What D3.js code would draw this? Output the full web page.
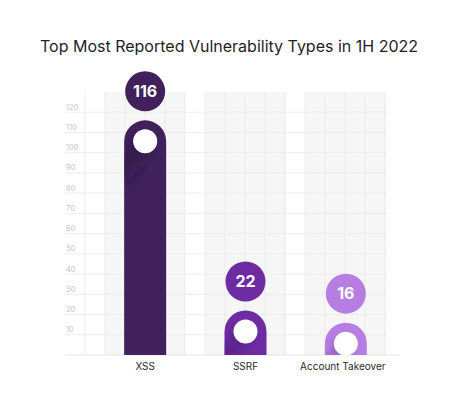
<!DOCTYPE html>
<html>
<head>
<meta charset="utf-8">
<style>
  body { margin: 0; background: #fff; }
  svg { display: block; font-family: Inter, "Noto Sans", sans-serif; }
</style>
<script src="https://cdn.jsdelivr.net/npm/d3@7"></script>
</head>
<body>
<script>
const categories = ["XSS", "SSRF", "Account Takeover"];
const values = [116, 22, 16];
const colors = ["#40215b", "#6e2ca3", "#b67ee2"];
const shadowColors = ["#2c1540", "#511c7c", "#8d55b8"];
const yTicks = [10, 20, 30, 40, 50, 60, 70, 80, 90, 100, 110, 120];

const w = 468, h = 407;
const baseY = 355, topY = 92;

const svg = d3.select("body").append("svg")
  .attr("width", w).attr("height", h);

const x = d3.scaleBand().domain(categories).range([95, 396]);
const y = d3.scaleLinear().domain([0, 130]).range([baseY, topY]);

svg.append("text")
  .attr("x", 229).attr("y", 51.5)
  .attr("text-anchor", "middle")
  .style("font-size", "16px")
  .style("fill", "#1f1f1f")
  .text("Top Most Reported Vulnerability Types in 1H 2022");

// grey panels behind each category
svg.selectAll("rect.panel")
  .data(categories)
  .enter()
  .append("rect")
  .attr("class", "panel")
  .attr("x", d => x(d) + x.bandwidth() / 2 - 40)
  .attr("y", topY)
  .attr("width", 80)
  .attr("height", baseY - topY)
  .style("fill", "#f6f6f6");

// vertical grid
svg.selectAll("line.vgrid")
  .data(d3.range(85, 390, 20))
  .enter()
  .append("line")
  .attr("x1", d => d).attr("x2", d => d)
  .attr("y1", topY).attr("y2", baseY)
  .style("stroke", "#ebebeb");

// horizontal grid + tick labels
svg.selectAll("line.hgrid")
  .data(yTicks)
  .enter()
  .append("line")
  .attr("x1", 65).attr("x2", 387)
  .attr("y1", d => y(d)).attr("y2", d => y(d))
  .style("stroke", "#ececec");

svg.selectAll("text.ytick")
  .data(yTicks)
  .enter()
  .append("text")
  .attr("x", 66)
  .attr("y", d => y(d) - 2.5)
  .style("font-size", "7.5px")
  .style("fill", "#c4c4c4")
  .text(d => d);

svg.append("line")
  .attr("x1", 65).attr("x2", 400)
  .attr("y1", baseY).attr("y2", baseY)
  .style("stroke", "#e6e6e6");

const bw = 42, r = bw / 2;
const defs = svg.append("defs");
defs.append("filter").attr("id", "blur")
  .append("feGaussianBlur").attr("stdDeviation", 2.5);

categories.forEach((c, i) => {
  const cx = x(c) + x.bandwidth() / 2;
  const t = y(values[i]);
  const x0 = cx - r, x1 = cx + r;
  const barPath = `M${x0},${baseY}V${t + r}A${r},${r} 0 0 1 ${x1},${t + r}V${baseY}Z`;

  defs.append("clipPath").attr("id", "clip" + i)
    .append("path").attr("d", barPath);

  const grad = defs.append("linearGradient").attr("id", "grad" + i)
    .attr("x1", "0").attr("y1", "0").attr("x2", "0.6").attr("y2", "1");
  grad.append("stop").attr("offset", "0").style("stop-color", shadowColors[i]).style("stop-opacity", 1);
  grad.append("stop").attr("offset", "1").style("stop-color", shadowColors[i]).style("stop-opacity", 0);

  svg.append("path")
    .attr("d", barPath)
    .style("fill", colors[i]);

  // long shadow of the white dot
  const cy = t + r, dr = 12, k = dr * 0.707, len = 40;
  const g = svg.append("g").attr("clip-path", `url(#clip${i})`);
  g.append("path")
    .attr("d", `M${cx - k},${cy - k}L${cx + k},${cy + k}L${cx + k - len * 0.5},${cy + k + len}L${cx - k - len * 0.5},${cy - k + len}Z`)
    .style("fill", `url(#grad${i})`)
    .attr("filter", "url(#blur)");

  svg.append("circle")
    .attr("cx", cx).attr("cy", cy).attr("r", dr)
    .style("fill", "#fff");

  svg.append("circle")
    .attr("cx", cx).attr("cy", t - 29).attr("r", 20)
    .style("fill", colors[i]);

  svg.append("text")
    .attr("x", cx).attr("y", t - 29)
    .attr("dy", "0.36em")
    .attr("text-anchor", "middle")
    .style("font-size", "16px")
    .style("font-weight", "bold")
    .style("fill", "#fff")
    .text(values[i]);

  svg.append("text")
    .attr("x", cx - (i === 2 ? 3 : 0)).attr("y", 369.5)
    .attr("text-anchor", "middle")
    .style("font-size", "10px")
    .style("fill", "#2a2a2a")
    .text(c);
});
</script>
</body>
</html>
